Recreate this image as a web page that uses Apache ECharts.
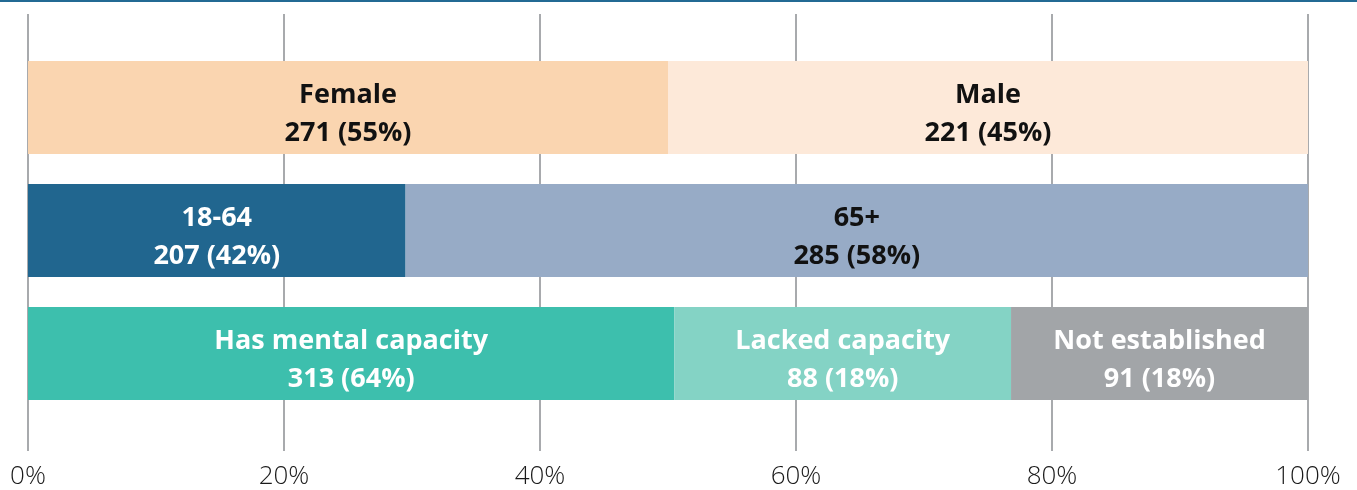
<!DOCTYPE html>
<html>
<head>
<meta charset="utf-8">
<script src="https://cdn.jsdelivr.net/npm/echarts@6/dist/echarts.min.js"></script>
<style>
  html, body { margin: 0; padding: 0; background: #fff; }
  #chart { width: 1357px; height: 490px; }
</style>
</head>
<body>
<div id="chart"></div>
<script>
// rows, top to bottom
const categories = ['Sex', 'Age', 'Capacity'];

const sexLabels = ['Female', 'Male'];
const sexCounts = [271, 221];
const sexShares = [55, 45];
const sexWidths = [50, 50];

const ageLabels = ['18-64', '65+'];
const ageCounts = [207, 285];
const ageShares = [42, 58];
const ageWidths = [29.5, 70.5];

const capLabels = ['Has mental capacity', 'Lacked capacity', 'Not established'];
const capCounts = [313, 88, 91];
const capShares = [64, 18, 18];
const capWidths = [50.5, 26.3, 23.2];

const xTicks = [0, 20, 40, 60, 80, 100];

const fills = [
  ['#fad5b0', '#fde9d9'],
  ['#21668f', '#97abc6'],
  ['#3dbfad', '#84d3c5', '#a2a5a8'],
];
const textColors = [
  ['#111', '#111'],
  ['#fff', '#111'],
  ['#fff', '#fff', '#fff'],
];

const rows = [
  { labels: sexLabels, counts: sexCounts, shares: sexShares, widths: sexWidths },
  { labels: ageLabels, counts: ageCounts, shares: ageShares, widths: ageWidths },
  { labels: capLabels, counts: capCounts, shares: capShares, widths: capWidths },
];

const labelFont = 'Open Sans';
const segCount = Math.max(...rows.map((r) => r.widths.length));

const series = [];
for (let s = 0; s < segCount; s++) {
  series.push({
    type: 'bar',
    stack: 'total',
    xAxisIndex: 0,
    yAxisIndex: 0,
    barWidth: 93,
    silent: true,
    data: rows.map((r, ri) => {
      if (s >= r.widths.length) return '-';
      return {
        value: r.widths[s],
        itemStyle: { color: fills[ri][s] },
        label: {
          show: true,
          position: 'inside',
          offset: [0, 7],
          color: textColors[ri][s],
          formatter: `${r.labels[s]}\n${r.counts[s]} (${r.shares[s]}%)`,
        },
      };
    }),
    label: {
      fontFamily: labelFont,
      fontWeight: 'bold',
      fontSize: 27,
      lineHeight: 38,
    },
  });
}

const chart = echarts.init(document.getElementById('chart'));
chart.setOption({
  animation: false,
  graphic: [
    {
      type: 'rect',
      shape: { x: 0, y: 0, width: 1357, height: 2 },
      style: { fill: '#236a94' },
    },
  ],
  grid: [
    { left: 28, right: 49, top: 46, height: 369 },
    { left: 28, right: 49, top: 14, bottom: 37 },
  ],
  xAxis: [
    {
      gridIndex: 0,
      type: 'value',
      min: 0,
      max: 100,
      show: false,
    },
    {
      gridIndex: 1,
      type: 'value',
      min: 0,
      max: 100,
      interval: 20,
      axisLine: { show: false },
      axisTick: { show: false },
      splitLine: { show: true, lineStyle: { color: '#a8aaad', width: 2 } },
      axisLabel: {
        margin: 13,
        fontFamily: labelFont,
        fontWeight: 300,
        fontSize: 26,
        color: '#1a1a1a',
        formatter: (v) => (xTicks.includes(v) ? v + '%' : ''),
      },
    },
  ],
  yAxis: [
    {
      gridIndex: 0,
      type: 'category',
      inverse: true,
      data: categories,
      show: false,
    },
    {
      gridIndex: 1,
      type: 'value',
      show: false,
    },
  ],
  series,
});
</script>
</body>
</html>
